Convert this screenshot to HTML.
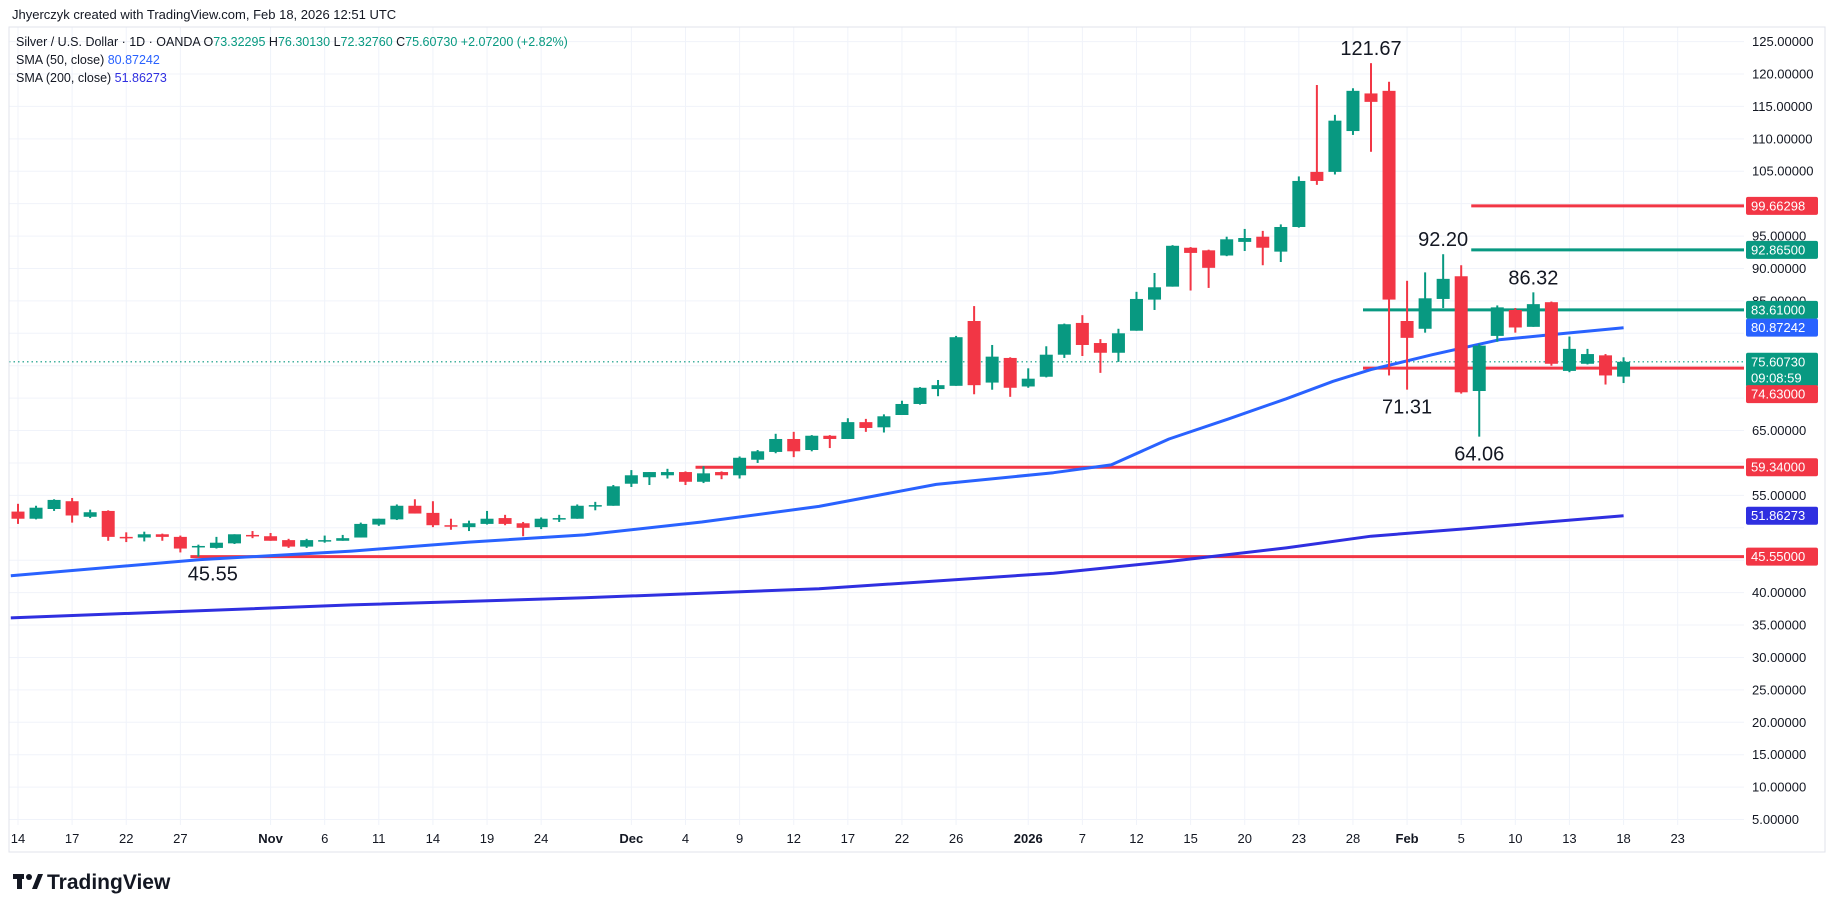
<!DOCTYPE html>
<html><head><meta charset="utf-8">
<style>
html,body{margin:0;padding:0;background:#fff;}
body{width:1835px;height:913px;overflow:hidden;font-family:"Liberation Sans",sans-serif;}
svg text{font-family:"Liberation Sans",sans-serif;}
</style></head>
<body>
<svg id="chart" width="1835" height="913" viewBox="0 0 1835 913" xmlns="http://www.w3.org/2000/svg">
  <rect x="0" y="0" width="1835" height="913" fill="#ffffff"/>
  <g id="grid"></g>
  <rect x="9" y="27" width="1816" height="825" fill="none" stroke="#e0e3eb" stroke-width="1"/>
  <line x1="1744" y1="27" x2="1744" y2="852" stroke="#ffffff" stroke-width="0"/>
  <g id="hlines"></g>
  <g id="smas"></g>
  <g id="candles"></g>
  <g id="annot"></g>
  <g id="yaxis"></g>
  <g id="xaxis"></g>
  <g id="header">
    <text x="12" y="19" font-size="13" fill="#131722">Jhyerczyk created with TradingView.com, Feb 18, 2026 12:51 UTC</text>
    <text x="16" y="46" font-size="12.5" fill="#131722">Silver / U.S. Dollar · 1D · OANDA  <tspan>O</tspan><tspan fill="#089981">73.32295</tspan>  <tspan>H</tspan><tspan fill="#089981">76.30130</tspan>  <tspan>L</tspan><tspan fill="#089981">72.32760</tspan>  <tspan>C</tspan><tspan fill="#089981">75.60730</tspan>  <tspan fill="#089981">+2.07200 (+2.82%)</tspan></text>
    <text x="16" y="64" font-size="12.5" fill="#131722">SMA (50, close)  <tspan fill="#2962ff">80.87242</tspan></text>
    <text x="16" y="82" font-size="12.5" fill="#131722">SMA (200, close)  <tspan fill="#2f2fe0">51.86273</tspan></text>
  </g>
  <g>
    <rect x="13" y="874" width="11" height="5" fill="#131722"/>
    <rect x="17" y="874" width="5" height="15" fill="#131722"/>
    <circle cx="29" cy="877" r="3" fill="#131722"/>
    <polygon points="32,889 38,874 43,874 37,889" fill="#131722"/>
    <text x="47" y="889" font-size="21" font-weight="bold" fill="#131722">TradingView</text>
  </g>
</svg>
<script>
const opens  = [52.5,51.4,52.9,54.1,51.7,52.6,48.6,48.5,49.0,48.6,47.1,46.9,47.6,48.9,48.7,48.1,47.1,48.0,48.0,48.5,50.5,51.3,53.4,52.3,50.4,50.1,50.6,51.5,50.7,50.1,51.4,51.4,53.4,53.4,56.8,57.8,58.1,58.6,57.1,58.6,58.1,60.5,61.7,63.7,62.0,64.2,63.7,66.3,65.5,67.4,69.1,71.4,71.9,81.9,72.4,76.2,71.8,73.3,76.7,81.6,78.5,77.0,80.4,85.2,87.2,93.2,92.8,92.0,94.1,94.9,92.6,96.4,104.9,104.9,111.2,117.0,117.4,81.9,80.7,85.3,88.8,71.1,79.6,83.6,81.0,84.8,74.2,75.3,76.6,73.32];
const highs  = [53.7,53.4,54.4,54.6,52.8,52.7,49.3,49.4,49.1,48.8,47.4,48.6,49.0,49.5,49.2,48.3,48.3,48.8,48.9,50.8,51.4,53.6,54.4,54.1,51.4,51.1,52.6,52.0,50.9,51.6,52.0,53.6,54.0,56.6,58.9,58.6,59.1,58.7,59.5,58.7,61.0,62.0,64.5,64.8,64.3,64.3,66.9,66.8,67.5,69.6,71.7,72.8,79.6,84.2,78.2,76.3,74.6,78.0,81.5,82.8,79.1,80.7,86.4,89.3,93.6,93.3,92.9,94.9,96.1,95.8,96.8,104.2,118.3,113.7,117.8,121.67,118.8,88.1,89.4,92.2,90.5,78.4,84.3,83.9,86.32,84.9,79.5,77.6,76.8,76.30];
const lows   = [50.6,51.3,52.6,50.8,51.5,48.0,47.8,47.9,48.0,46.2,45.55,46.8,47.5,48.4,48.0,46.9,46.9,47.7,48.0,48.5,50.3,51.2,52.2,50.1,49.7,49.5,50.5,50.4,48.7,49.8,50.9,51.4,52.7,53.4,56.3,56.6,57.6,56.6,56.9,57.5,57.6,60.0,61.5,60.9,61.8,62.3,63.7,64.8,64.7,67.4,69.0,70.3,71.9,70.6,71.3,70.2,71.6,73.2,76.2,76.5,73.9,75.6,80.4,83.6,87.2,86.6,87.0,91.9,92.7,90.5,91.0,96.3,102.9,104.5,110.6,108.0,73.5,71.31,80.1,83.9,70.7,64.06,78.7,80.1,81.0,75.0,74.0,75.2,72.1,72.33];
const closes = [51.4,53.1,54.3,51.9,52.4,48.6,48.4,49.0,48.6,46.8,47.2,47.7,49.0,48.7,48.0,47.1,48.1,48.1,48.4,50.6,51.4,53.4,52.2,50.4,50.3,50.7,51.4,50.6,50.0,51.4,51.5,53.4,53.5,56.4,58.1,58.6,58.6,57.1,58.4,58.1,60.8,61.8,63.7,61.8,64.2,63.7,66.3,65.4,67.2,69.1,71.6,72.0,79.4,72.0,76.4,71.6,73.0,76.7,81.4,78.2,77.0,80.0,85.3,87.1,93.5,92.4,90.1,94.5,94.7,93.2,96.4,103.5,103.5,112.8,117.4,115.7,85.2,79.3,85.4,88.4,70.9,78.1,84.0,80.9,84.5,75.3,77.6,76.8,73.5,75.6073];
const sma50Idx  = [-0.4,10.1,18.5,25,31.4,37.9,44.4,50.9,57.4,60.6,63.8,67.1,70.3,72.9,75,78.4,82.1,85.8,89];
const sma50Vals = [42.6,45.1,46.4,47.8,48.9,50.9,53.3,56.7,58.5,59.7,63.7,66.8,69.9,72.6,74.4,76.7,79.0,80.0,80.87];
const sma200Idx  = [-0.4,18.5,31.4,44.4,57.4,63.8,70.3,75,80,89];
const sma200Vals = [36.1,38.1,39.2,40.6,43.0,44.8,46.9,48.7,49.8,51.86];
const levelValues = [99.66298,92.865,83.61,74.63,59.34,45.55];
const levelLabels = ["99.66298","92.86500","83.61000","74.63000","59.34000","45.55000"];
const levelStartIdx = [81,81,75,75,38,10];
const levelKinds = ["red","green","green","red","red","red"];
const priceTicks = [5,10,15,20,25,30,35,40,45,50,55,60,65,70,75,80,85,90,95,100,105,110,115,120,125];
const dateLabels = ["14","17","22","27","Nov","6","11","14","19","24","Dec","4","9","12","17","22","26","2026","7","12","15","20","23","28","Feb","5","10","13","18","23"];
const dateIdx = [0,3,6,9,14,17,20,23,26,29,34,37,40,43,46,49,52,56,59,62,65,68,71,74,77,80,83,86,89,92];
const annotTexts = ["121.67","92.20","86.32","71.31","64.06","45.55"];
const annotIdx = [75,79,84,77,81,10.8];
const annotVals = [121.67,92.2,86.32,71.31,64.06,45.55];
const annotAbove = [true,true,true,false,false,false];

const NS = "http://www.w3.org/2000/svg";
const UP = "#089981", DN = "#f23645";
const PLOT_L = 9, PLOT_R = 1744, PLOT_T = 27, PLOT_B = 825;
function xs(i){ return 18 + i*18.04; }
function ys(p){ return 527.8 - (p-50)*6.483; }
function mk(tag, attrs, parent){ const e=document.createElementNS(NS,tag); for(const k in attrs) e.setAttribute(k,attrs[k]); parent.appendChild(e); return e; }

const grid = document.getElementById('grid');
priceTicks.forEach(p=>{
  const l = mk('line',{x1:PLOT_L,x2:PLOT_R,y1:ys(p),y2:ys(p),stroke:'#f0f3fa','stroke-width':1},grid);
  
  
});
dateIdx.forEach(i=>{
  const l = mk('line',{x1:xs(i),x2:xs(i),y1:PLOT_T,y2:PLOT_B,stroke:'#f0f3fa','stroke-width':1},grid);
  
  
});

// last price dotted line
const lastP = closes[closes.length-1];
const dl = mk('line',{x1:PLOT_L,x2:PLOT_R,y1:ys(lastP),y2:ys(lastP),stroke:UP,'stroke-width':1.2,'stroke-dasharray':'1.5 3'},grid);



const hl = document.getElementById('hlines');
levelValues.forEach((v,k)=>{
  const l = mk('line',{x1:xs(levelStartIdx[k])-8,x2:PLOT_R,y1:ys(v),y2:ys(v),stroke:levelKinds[k]==='red'?DN:UP,'stroke-width':3},hl);
  
  
});

const smas = document.getElementById('smas');
function pathFrom(idx, vals){ return idx.map((i,k)=>(k?'L':'M')+Math.max(PLOT_L,xs(i)).toFixed(1)+' '+ys(vals[k]).toFixed(1)).join(' '); }
const s200 = mk('path',{d:pathFrom(sma200Idx,sma200Vals),fill:'none',stroke:'#2f2fe0','stroke-width':3,'stroke-linejoin':'round'},smas);


const s50 = mk('path',{d:pathFrom(sma50Idx,sma50Vals),fill:'none',stroke:'#2962ff','stroke-width':3,'stroke-linejoin':'round'},smas);



const cg = document.getElementById('candles');
opens.forEach((o,i)=>{
  const c = closes[i], h = highs[i], l = lows[i];
  const col = c >= o ? UP : DN;
  const g = mk('g',{},cg);
  
  
  const x = xs(i);
  const w = mk('rect',{x:x-1,y:ys(h),width:2,height:Math.max(1,ys(l)-ys(h)),fill:col},g);
  
  
  const top = ys(Math.max(o,c)), bot = ys(Math.min(o,c));
  const b = mk('rect',{x:x-6.5,y:top,width:13,height:Math.max(1.5,bot-top),fill:col},g);
  
  
});

const an = document.getElementById('annot');
annotTexts.forEach((t,k)=>{
  const y = annotAbove[k] ? ys(annotVals[k]) - 8 : ys(annotVals[k]) + 24;
  const tx = mk('text',{x:xs(annotIdx[k]),y:y,'font-size':20,fill:'#131722','text-anchor':'middle'},an);
  tx.textContent = t;
  
  
});

const ya = document.getElementById('yaxis');
const hidden = [50,75,80,100];
priceTicks.forEach(p=>{
  if(hidden.includes(p)) return;
  const t = mk('text',{x:1752,y:ys(p)+4.5,'font-size':13,fill:'#131722'},ya);
  t.textContent = p.toFixed(5);
  
  
});
function badge(y, text, fill, text2){
  const g = mk('g',{},ya);
  
  
  const h = text2 ? 34 : 18;
  const r = mk('rect',{x:1746,y:y-9,width:72,height:h,rx:2,fill:fill},g);
  
  
  const t = mk('text',{x:1751,y:y+4.5,'font-size':13,fill:'#fff'},g);
  t.textContent = text;
  
  
  if(text2){
    const t2 = mk('text',{x:1751,y:y+20.5,'font-size':13,fill:'#fff'},g);
    t2.textContent = text2;
    
    
  }
}
badge(ys(99.66298),'99.66298',DN);
badge(ys(92.865),'92.86500',UP);
badge(ys(83.61),'83.61000',UP);
badge(ys(80.87242),'80.87242','#2962ff');
badge(ys(lastP),'75.60730',UP,'09:08:59');
badge(ys(74.63)+26,'74.63000',DN);
badge(ys(59.34),'59.34000',DN);
badge(ys(51.86273),'51.86273','#2f2fe0');
badge(ys(45.55),'45.55000',DN);

const xa = document.getElementById('xaxis');
dateLabels.forEach((d,k)=>{
  const bold = ['Nov','Dec','2026','Feb'].includes(d);
  const t = mk('text',{x:xs(dateIdx[k]),y:843,'font-size':13,fill:'#131722','text-anchor':'middle','font-weight':bold?'bold':'normal'},xa);
  t.textContent = d;
  
  
});
</script>
</body></html>
